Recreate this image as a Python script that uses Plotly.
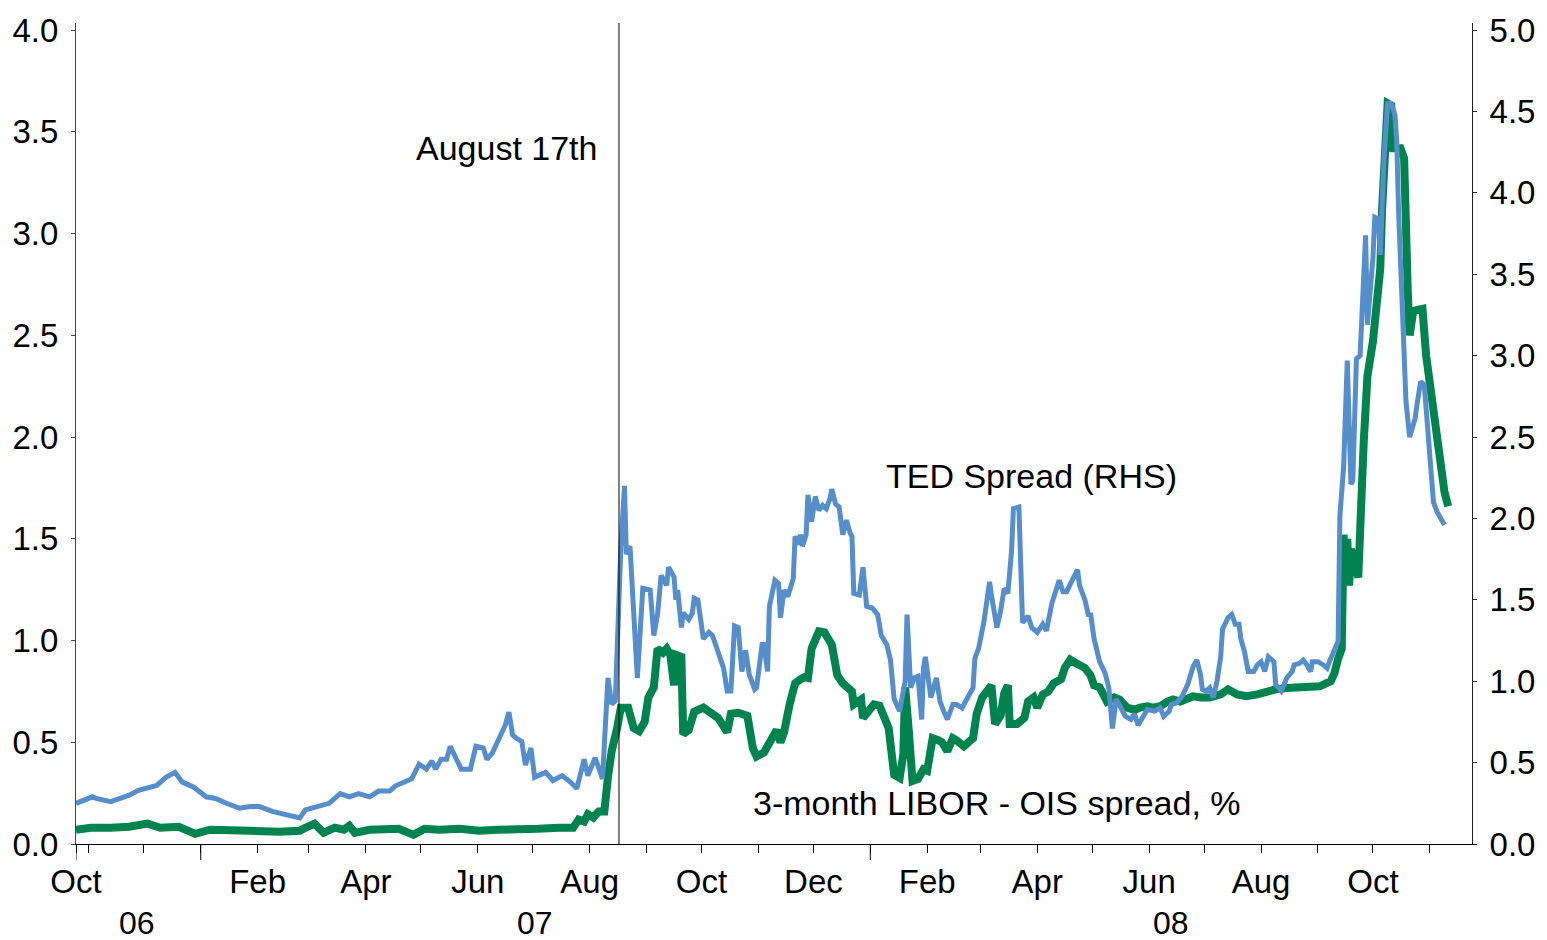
import plotly.graph_objects as go
import pandas as pd

# ---------------- data ----------------
ted_dates = [
    "2006-10-25", "2006-11-03", "2006-11-05", "2006-11-13", "2006-11-18", "2006-11-23", "2006-11-28",
    "2006-12-01", "2006-12-08", "2006-12-13", "2006-12-18", "2006-12-22", "2006-12-28",
    "2007-01-04", "2007-01-09", "2007-01-15", "2007-01-22", "2007-01-28",
    "2007-02-02", "2007-02-09", "2007-02-16", "2007-02-24", "2007-02-27",
    "2007-03-07", "2007-03-12", "2007-03-18", "2007-03-23", "2007-03-28",
    "2007-04-03", "2007-04-08", "2007-04-14", "2007-04-17", "2007-04-19", "2007-04-25", "2007-04-26", "2007-04-30",
    "2007-05-04", "2007-05-07", "2007-05-09", "2007-05-12", "2007-05-15", "2007-05-17", "2007-05-20", "2007-05-23",
    "2007-05-28", "2007-05-31",
    "2007-06-04", "2007-06-06", "2007-06-09", "2007-06-12", "2007-06-16", "2007-06-18", "2007-06-20", "2007-06-22",
    "2007-06-25", "2007-06-27", "2007-06-30",
    "2007-07-02", "2007-07-08", "2007-07-12", "2007-07-17", "2007-07-22", "2007-07-25", "2007-07-29", "2007-07-31",
    "2007-08-04", "2007-08-08", "2007-08-11", "2007-08-13", "2007-08-15", "2007-08-17", "2007-08-18", "2007-08-20",
    "2007-08-21", "2007-08-23", "2007-08-27", "2007-08-30",
    "2007-09-03", "2007-09-05", "2007-09-07", "2007-09-09", "2007-09-12", "2007-09-13", "2007-09-16", "2007-09-17",
    "2007-09-18", "2007-09-20", "2007-09-21", "2007-09-24", "2007-09-26", "2007-09-27", "2007-09-29",
    "2007-10-02", "2007-10-05", "2007-10-07", "2007-10-10", "2007-10-13", "2007-10-15", "2007-10-17", "2007-10-19",
    "2007-10-21", "2007-10-23", "2007-10-25", "2007-10-27", "2007-10-30", "2007-10-31",
    "2007-11-03", "2007-11-04", "2007-11-06", "2007-11-07", "2007-11-10", "2007-11-12", "2007-11-13", "2007-11-15",
    "2007-11-17", "2007-11-20", "2007-11-21", "2007-11-23", "2007-11-24", "2007-11-25", "2007-11-27", "2007-11-28",
    "2007-11-30",
    "2007-12-02", "2007-12-04", "2007-12-06", "2007-12-08", "2007-12-10", "2007-12-11", "2007-12-13", "2007-12-15",
    "2007-12-17", "2007-12-19", "2007-12-21", "2007-12-22", "2007-12-23", "2007-12-26", "2007-12-28", "2007-12-30",
    "2008-01-02", "2008-01-05", "2008-01-07", "2008-01-10", "2008-01-12", "2008-01-14", "2008-01-17", "2008-01-20",
    "2008-01-21", "2008-01-23", "2008-01-25", "2008-01-27", "2008-01-29", "2008-01-30", "2008-01-31",
    "2008-02-03", "2008-02-06", "2008-02-08", "2008-02-10", "2008-02-12", "2008-02-15", "2008-02-17", "2008-02-20",
    "2008-02-23", "2008-02-26", "2008-02-27", "2008-02-29",
    "2008-03-03", "2008-03-06", "2008-03-07", "2008-03-10", "2008-03-12", "2008-03-14", "2008-03-16", "2008-03-18",
    "2008-03-19", "2008-03-22", "2008-03-24", "2008-03-27", "2008-03-29",
    "2008-04-01", "2008-04-04", "2008-04-06", "2008-04-09", "2008-04-13", "2008-04-15", "2008-04-17", "2008-04-20",
    "2008-04-23", "2008-04-24", "2008-04-27", "2008-04-29", "2008-04-30",
    "2008-05-02", "2008-05-05", "2008-05-08", "2008-05-10", "2008-05-12", "2008-05-14", "2008-05-16", "2008-05-19",
    "2008-05-22", "2008-05-24", "2008-05-26", "2008-05-29", "2008-05-31",
    "2008-06-04", "2008-06-07", "2008-06-09", "2008-06-12", "2008-06-13", "2008-06-16", "2008-06-19", "2008-06-22",
    "2008-06-25", "2008-06-27", "2008-06-29", "2008-06-30",
    "2008-07-02", "2008-07-04", "2008-07-06", "2008-07-08", "2008-07-10", "2008-07-11", "2008-07-14", "2008-07-16",
    "2008-07-18", "2008-07-20", "2008-07-21", "2008-07-23", "2008-07-25", "2008-07-28", "2008-07-30",
    "2008-08-01", "2008-08-03", "2008-08-05", "2008-08-08", "2008-08-09", "2008-08-12", "2008-08-15", "2008-08-18",
    "2008-08-19", "2008-08-22", "2008-08-24", "2008-08-26", "2008-08-28", "2008-08-29",
    "2008-09-01", "2008-09-04", "2008-09-06", "2008-09-08", "2008-09-09", "2008-09-12", "2008-09-13", "2008-09-15",
    "2008-09-17", "2008-09-19", "2008-09-20", "2008-09-22", "2008-09-24", "2008-09-27", "2008-09-28",
    "2008-10-01", "2008-10-02", "2008-10-04", "2008-10-05", "2008-10-07", "2008-10-09", "2008-10-11", "2008-10-13",
    "2008-10-14", "2008-10-15", "2008-10-17", "2008-10-19", "2008-10-21", "2008-10-24", "2008-10-25", "2008-10-27",
    "2008-10-29", "2008-10-31",
    "2008-11-02", "2008-11-03", "2008-11-05", "2008-11-07", "2008-11-09",
]
ted_values = [
    0.25, 0.29, 0.28, 0.26, 0.28, 0.30, 0.33,
    0.34, 0.36, 0.41, 0.44, 0.38, 0.35,
    0.29, 0.28, 0.25, 0.22, 0.23,
    0.23, 0.20, 0.18, 0.16, 0.21,
    0.23, 0.25, 0.31, 0.29, 0.31,
    0.29, 0.325, 0.325, 0.356, 0.366, 0.39, 0.40, 0.49,
    0.46, 0.51, 0.46, 0.52, 0.52, 0.60, 0.53, 0.46,
    0.46, 0.60,
    0.59, 0.52, 0.56, 0.63, 0.73, 0.81, 0.67, 0.65,
    0.63, 0.485, 0.59,
    0.41, 0.44, 0.39, 0.42, 0.376, 0.34, 0.52, 0.42,
    0.53, 0.40, 1.02, 0.86, 0.88, 1.59, 1.82, 2.20,
    1.78, 1.83, 1.02, 1.57,
    1.56, 1.28, 1.41, 1.65, 1.59, 1.70, 1.64, 1.50,
    1.56, 1.33, 1.42, 1.38, 1.42, 1.51, 1.50,
    1.26, 1.30, 1.28, 1.19, 1.08, 0.94, 0.94, 1.34,
    1.33, 1.06, 1.19, 1.04, 0.95, 0.96,
    1.225, 1.225, 1.06, 1.46, 1.62, 1.60, 1.39, 1.56,
    1.52, 1.63, 1.89, 1.84, 1.90, 1.83, 1.90, 2.145,
    1.98,
    2.135, 2.05, 2.08, 2.06, 2.12, 2.18, 2.09, 2.07,
    1.90, 1.99, 1.91, 1.89, 1.54, 1.53, 1.70, 1.46,
    1.45, 1.41, 1.28, 1.225, 1.13, 0.89, 0.816, 1.00,
    1.41, 0.96, 1.02, 1.03, 0.765, 1.08, 1.15,
    0.90, 1.02, 0.877, 0.816, 0.765, 0.857, 0.857, 0.836,
    0.90, 0.96, 1.14, 1.20,
    1.37, 1.61, 1.53, 1.33, 1.43, 1.57, 1.54, 1.80,
    2.06, 2.07, 1.36, 1.40, 1.33,
    1.30, 1.35, 1.31, 1.48, 1.62, 1.55, 1.55, 1.62,
    1.685, 1.59, 1.50, 1.40, 1.42,
    1.26, 1.12, 1.05, 0.96, 0.71, 0.89, 0.85, 0.785,
    0.765, 0.80, 0.73, 0.785, 0.826,
    0.816, 0.836, 0.785, 0.816, 0.857, 0.867, 0.908, 0.98,
    1.09, 1.13, 1.04, 0.95,
    0.94, 0.96, 0.90, 1.00, 1.15, 1.32, 1.39, 1.41,
    1.35, 1.35, 1.26, 1.18, 1.06, 1.06, 1.10,
    1.12, 1.06, 1.15, 1.12, 0.98, 0.94, 1.02, 1.06,
    1.10, 1.11, 1.13, 1.10, 1.06, 1.12,
    1.12, 1.10, 1.08, 1.14, 1.17, 1.245, 2.02, 2.31,
    2.97, 2.21, 2.23, 2.98, 3.00, 3.74, 3.19,
    3.60, 3.85, 3.84, 3.62, 4.21, 4.55, 4.55, 4.48,
    4.31, 3.88, 3.30, 2.72, 2.50, 2.615, 2.70, 2.84,
    2.82, 2.55,
    2.27, 2.10, 2.04, 2.00, 1.96,
]

ois_dates = [
    "2006-10-25", "2006-11-02", "2006-11-13", "2006-11-23",
    "2006-12-03", "2006-12-10", "2006-12-20", "2006-12-29",
    "2007-01-06", "2007-01-17", "2007-01-28",
    "2007-02-13", "2007-02-24", "2007-02-27",
    "2007-03-04", "2007-03-09", "2007-03-15", "2007-03-20", "2007-03-23", "2007-03-26",
    "2007-04-03", "2007-04-19", "2007-04-27",
    "2007-05-03", "2007-05-11", "2007-05-22",
    "2007-06-02", "2007-06-12", "2007-06-23",
    "2007-07-04", "2007-07-15", "2007-07-23", "2007-07-26", "2007-07-29", "2007-07-31",
    "2007-08-03", "2007-08-06", "2007-08-09", "2007-08-11", "2007-08-13", "2007-08-16", "2007-08-18", "2007-08-22",
    "2007-08-25", "2007-08-28", "2007-08-31",
    "2007-09-02", "2007-09-05", "2007-09-07", "2007-09-10", "2007-09-12", "2007-09-14", "2007-09-16", "2007-09-17",
    "2007-09-20", "2007-09-21", "2007-09-24", "2007-09-27",
    "2007-10-02", "2007-10-06", "2007-10-10", "2007-10-15", "2007-10-17", "2007-10-21", "2007-10-26", "2007-10-29",
    "2007-10-31",
    "2007-11-04", "2007-11-08", "2007-11-11", "2007-11-13", "2007-11-15", "2007-11-18", "2007-11-21", "2007-11-24",
    "2007-11-26", "2007-11-28", "2007-11-30",
    "2007-12-04", "2007-12-07", "2007-12-11", "2007-12-14", "2007-12-17", "2007-12-22", "2007-12-23", "2007-12-27",
    "2007-12-28", "2007-12-31",
    "2008-01-03", "2008-01-06", "2008-01-09", "2008-01-11", "2008-01-14", "2008-01-17", "2008-01-19", "2008-01-20",
    "2008-01-22", "2008-01-24", "2008-01-27", "2008-01-30",
    "2008-02-01", "2008-02-04", "2008-02-07", "2008-02-09", "2008-02-12", "2008-02-15", "2008-02-17", "2008-02-21",
    "2008-02-26", "2008-02-28",
    "2008-03-02", "2008-03-05", "2008-03-07", "2008-03-09", "2008-03-12", "2008-03-14", "2008-03-16", "2008-03-17",
    "2008-03-21", "2008-03-25", "2008-03-27", "2008-03-30",
    "2008-04-01", "2008-04-04", "2008-04-07", "2008-04-10", "2008-04-14", "2008-04-16", "2008-04-19", "2008-04-22",
    "2008-04-24", "2008-04-27", "2008-04-30",
    "2008-05-02", "2008-05-05", "2008-05-09", "2008-05-13", "2008-05-16", "2008-05-20", "2008-05-24", "2008-05-27",
    "2008-05-31",
    "2008-06-03", "2008-06-07", "2008-06-11", "2008-06-14", "2008-06-18", "2008-06-22", "2008-06-25", "2008-06-29",
    "2008-07-04", "2008-07-10", "2008-07-14", "2008-07-19", "2008-07-24", "2008-07-30",
    "2008-08-04", "2008-08-09", "2008-08-15", "2008-08-20", "2008-08-28",
    "2008-09-02", "2008-09-08", "2008-09-10", "2008-09-12", "2008-09-14", "2008-09-15", "2008-09-16", "2008-09-17",
    "2008-09-18", "2008-09-19", "2008-09-22", "2008-09-23", "2008-09-26", "2008-09-28",
    "2008-10-01", "2008-10-05", "2008-10-06", "2008-10-08", "2008-10-09", "2008-10-11", "2008-10-12", "2008-10-16",
    "2008-10-18", "2008-10-20", "2008-10-21", "2008-10-23", "2008-10-28", "2008-10-30",
    "2008-11-03", "2008-11-06", "2008-11-09", "2008-11-11",
]
ois_values = [
    0.07, 0.08, 0.08, 0.085,
    0.10, 0.08, 0.085, 0.05,
    0.07, 0.07, 0.065,
    0.06, 0.065, 0.08,
    0.10, 0.055, 0.08, 0.07, 0.09, 0.055,
    0.07, 0.075, 0.045,
    0.075, 0.07, 0.075,
    0.065, 0.07, 0.07,
    0.075, 0.08, 0.08, 0.12, 0.11, 0.146,
    0.13, 0.16, 0.16, 0.33, 0.456, 0.57, 0.67, 0.67,
    0.57, 0.555, 0.60,
    0.72, 0.77, 0.96, 0.94, 0.96, 0.93, 0.78, 0.93,
    0.92, 0.54, 0.56, 0.65,
    0.67, 0.64, 0.62, 0.55, 0.64, 0.645, 0.63, 0.47,
    0.43,
    0.45, 0.52, 0.56, 0.50, 0.55, 0.686, 0.79, 0.81,
    0.82, 0.816, 0.96,
    1.045, 1.04, 0.98, 0.83, 0.79, 0.75, 0.686, 0.71,
    0.62, 0.65,
    0.686, 0.68, 0.61, 0.57, 0.34, 0.325, 0.44, 0.77,
    0.555, 0.31, 0.32, 0.367,
    0.36, 0.52, 0.51, 0.50, 0.456, 0.52, 0.51, 0.48,
    0.52, 0.64,
    0.72, 0.76, 0.78, 0.59, 0.63, 0.74, 0.78, 0.59,
    0.59, 0.62, 0.70, 0.72,
    0.67, 0.735, 0.75, 0.79, 0.81, 0.865, 0.906, 0.89,
    0.88, 0.865, 0.83,
    0.78, 0.77, 0.70, 0.72, 0.71, 0.67, 0.66, 0.67,
    0.677,
    0.67, 0.677, 0.70, 0.71, 0.70, 0.72, 0.726, 0.72,
    0.72, 0.735, 0.76, 0.735, 0.726, 0.735,
    0.75, 0.76, 0.767, 0.767, 0.767,
    0.775, 0.80, 0.84, 0.91, 0.96, 1.52, 1.27, 1.50,
    1.27, 1.45, 1.31, 1.31, 1.98, 2.30,
    2.47, 2.83, 3.12, 3.53, 3.64, 3.63, 3.42, 3.42,
    3.37, 2.71, 2.50, 2.62, 2.63, 2.40,
    2.14, 1.90, 1.73, 1.66,
]

tick_dates = [
    "2006-10-25", "2006-11-01", "2006-12-01", "2007-01-01", "2007-02-01", "2007-03-01", "2007-04-01",
    "2007-05-01", "2007-06-01", "2007-07-01", "2007-08-01", "2007-09-01", "2007-10-01", "2007-11-01",
    "2007-12-01", "2008-01-01", "2008-02-01", "2008-03-01", "2008-04-01", "2008-05-01", "2008-06-01",
    "2008-07-01", "2008-08-01", "2008-09-01", "2008-10-01", "2008-11-01",
]
tick_labels = [
    "Oct", "", "", "", "Feb", "", "Apr", "", "Jun", "", "Aug", "", "Oct", "",
    "Dec", "", "Feb", "", "Apr", "", "Jun", "", "Aug", "", "Oct", "",
]
year_labels = ["06", "07", "08"]
long_tick_dates = ["2006-10-25", "2007-01-01", "2008-01-01"]

x_start, x_end = "2006-10-25", "2008-11-24"
event_date = "2007-08-17"

assert len(ted_dates) == len(ted_values)
assert len(ois_dates) == len(ois_values)

# ---------------- figure ----------------
FONT = "Liberation Sans, Arial, Helvetica, sans-serif"
GREEN = "#00834F"
BLUE = "#568DCB"

W, H = 1547, 940
ML, MR, MT, MB = 76, 71, 22, 96
plot_h = H - MT - MB

fig = go.Figure()
fig.add_trace(go.Scatter(
    x=pd.to_datetime(ois_dates), y=ois_values, mode="lines",
    line=dict(color=GREEN, width=8), yaxis="y", showlegend=False,
    name="3-month LIBOR - OIS spread, %",
))
fig.add_trace(go.Scatter(
    x=pd.to_datetime(ted_dates), y=ted_values, mode="lines",
    line=dict(color=BLUE, width=5), yaxis="y2", showlegend=False,
    name="TED Spread (RHS)",
))

y_ticks_left = [i * 0.5 for i in range(9)]
y_ticks_right = [i * 0.5 for i in range(11)]

fig.update_layout(
    width=W, height=H,
    margin=dict(l=ML, r=MR, t=MT, b=MB, pad=0),
    paper_bgcolor="white", plot_bgcolor="white",
    font=dict(family=FONT, size=33, color="black"),
    xaxis=dict(
        type="date", range=[x_start, x_end],
        tickmode="array", tickvals=tick_dates, ticktext=tick_labels,
        ticks="outside", ticklen=8, tickwidth=1, tickcolor="black",
        showline=True, linecolor="black", linewidth=1,
        showgrid=False, zeroline=False,
        tickfont=dict(family=FONT, size=33, color="black"),
        ticklabelstandoff=0,
    ),
    yaxis=dict(
        range=[0, 4.035], tickmode="array", tickvals=y_ticks_left,
        ticktext=[f"{v:.1f}" for v in y_ticks_left],
        ticks="outside", ticklen=4, tickcolor="#444", tickwidth=1,
        showline=True, linecolor="#444", linewidth=1,
        showgrid=False, zeroline=False,
        tickfont=dict(family=FONT, size=33, color="black"),
        ticklabelstandoff=6,
    ),
    yaxis2=dict(
        range=[0, 5.044], overlaying="y", side="right",
        tickmode="array", tickvals=y_ticks_right,
        ticktext=[f"{v:.1f}" for v in y_ticks_right],
        ticks="outside", ticklen=4, tickcolor="#222", tickwidth=1,
        showline=True, linecolor="#222", linewidth=1,
        showgrid=False, zeroline=False,
        tickfont=dict(family=FONT, size=33, color="black"),
        ticklabelstandoff=6,
    ),
)

# vertical event line
fig.add_shape(type="line", xref="x", yref="paper", x0=event_date, x1=event_date, y0=0, y1=1,
              line=dict(color="black", width=1))

# long ticks at the start and at year boundaries
for d in long_tick_dates:
    fig.add_shape(type="line", xref="x", yref="paper", x0=d, x1=d, y0=0, y1=-16 / plot_h,
                  line=dict(color="black", width=1))

# year labels centred on the visible part of each year
t0, t1 = pd.Timestamp(x_start), pd.Timestamp(x_end)
for lab in year_labels:
    yr = 2000 + int(lab)
    a = max(t0, pd.Timestamp(f"{yr}-01-01"))
    b = min(t1, pd.Timestamp(f"{yr}-12-31"))
    mid = a + (b - a) / 2
    fig.add_annotation(x=mid, y=0, xref="x", yref="paper", text=lab, showarrow=False,
                       xanchor="center", yanchor="middle", yshift=-79,
                       font=dict(family=FONT, size=32, color="black"))

# text labels
fig.add_annotation(x=event_date, y=3.42, xref="x", yref="y", text="August 17th", showarrow=False,
                   xanchor="right", yanchor="middle", xshift=-20,
                   font=dict(family=FONT, size=34, color="black"))
fig.add_annotation(x="2008-03-29", y=1.81, xref="x", yref="y", text="TED Spread (RHS)", showarrow=False,
                   xanchor="center", yanchor="middle",
                   font=dict(family=FONT, size=34, color="black"))
fig.add_annotation(x="2008-03-10", y=0.20, xref="x", yref="y", text="3-month LIBOR - OIS spread, %",
                   showarrow=False, xanchor="center", yanchor="middle",
                   font=dict(family=FONT, size=34, color="black"))

fig.write_html("out.html", config={"displayModeBar": False},
               post_script="document.body.style.margin='0';document.body.style.overflow='hidden';")
